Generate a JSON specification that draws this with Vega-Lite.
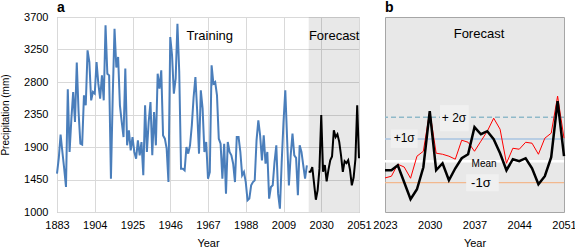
{
  "$schema": "https://vega.github.io/schema/vega-lite/v6.json",
  "padding": {"left": 0, "top": 0, "right": 0, "bottom": 0},
  "bounds": "flush",
  "spacing": 26,
  "config": {
    "font": "Liberation Sans",
    "view": {"stroke": "#a6a6a6"},
    "axis": {"labelFont": "Liberation Sans", "titleFont": "Liberation Sans", "labelFontSize": 11, "titleFontSize": 11, "labelColor": "#000", "titleColor": "#000", "titleFontWeight": "normal", "domain": false, "ticks": false, "gridColor": "#d9d9d9", "labelFlush": false, "labelOverlap": false}
  },
  "datasets": {
    "training": [
      {"year":1883,"p":1531},{"year":1884,"p":1750},{"year":1885,"p":2071},{"year":1886,"p":1831},{"year":1887,"p":1600},{"year":1888,"p":1346},{"year":1889,"p":2698},{"year":1890,"p":1831},{"year":1891,"p":2292},{"year":1892,"p":2661},
      {"year":1893,"p":2246},{"year":1894,"p":3068},{"year":1895,"p":2385},{"year":1896,"p":1946},{"year":1897,"p":1932},{"year":1898,"p":2615},{"year":1899,"p":2477},{"year":1900,"p":3238},{"year":1901,"p":3077},{"year":1902,"p":2546},
      {"year":1903,"p":2661},{"year":1904,"p":2638},{"year":1905,"p":3077},{"year":1906,"p":2777},{"year":1907,"p":2569},{"year":1908,"p":2892},{"year":1909,"p":2546},{"year":1910,"p":3584},{"year":1911,"p":2915},{"year":1912,"p":2892},
      {"year":1913,"p":1462},{"year":1914,"p":2600},{"year":1915,"p":3538},{"year":1916,"p":3000},{"year":1917,"p":3146},{"year":1918,"p":2477},{"year":1919,"p":2246},{"year":1920,"p":2038},{"year":1921,"p":2985},{"year":1922,"p":1923},
      {"year":1923,"p":2131},{"year":1924,"p":1854},{"year":1925,"p":2038},{"year":1926,"p":1831},{"year":1927,"p":1738},{"year":1928,"p":1992},{"year":1929,"p":1785},{"year":1930,"p":1969},{"year":1931,"p":1508},{"year":1932,"p":2477},
      {"year":1933,"p":1831},{"year":1934,"p":2246},{"year":1935,"p":2523},{"year":1936,"p":1785},{"year":1937,"p":2385},{"year":1938,"p":1923},{"year":1939,"p":2915},{"year":1940,"p":2708},{"year":1941,"p":2961},{"year":1942,"p":2061},
      {"year":1943,"p":2015},{"year":1944,"p":1877},{"year":1945,"p":1415},{"year":1946,"p":3423},{"year":1947,"p":3169},{"year":1948,"p":2638},{"year":1949,"p":2846},{"year":1950,"p":3607},{"year":1951,"p":2938},{"year":1952,"p":1600},
      {"year":1953,"p":1600},{"year":1954,"p":1577},{"year":1955,"p":1900},{"year":1956,"p":1808},{"year":1957,"p":1923},{"year":1958,"p":2200},{"year":1959,"p":2592},{"year":1960,"p":2869},{"year":1961,"p":2385},{"year":1962,"p":1808},
      {"year":1963,"p":2685},{"year":1964,"p":2431},{"year":1965,"p":1831},{"year":1966,"p":1969},{"year":1967,"p":1462},{"year":1968,"p":1554},{"year":1969,"p":3031},{"year":1970,"p":2777},{"year":1971,"p":2800},{"year":1972,"p":2615},
      {"year":1973,"p":2015},{"year":1974,"p":1946},{"year":1975,"p":1462},{"year":1976,"p":1946},{"year":1977,"p":1254},{"year":1978,"p":1969},{"year":1979,"p":1831},{"year":1980,"p":1785},{"year":1981,"p":1669},{"year":1982,"p":1415},
      {"year":1983,"p":2038},{"year":1984,"p":2038},{"year":1985,"p":1831},{"year":1986,"p":1508},{"year":1987,"p":1554},{"year":1988,"p":1415},{"year":1989,"p":1161},{"year":1990,"p":1185},{"year":1991,"p":1369},{"year":1992,"p":1415},
      {"year":1993,"p":1438},{"year":1994,"p":1992},{"year":1995,"p":2269},{"year":1996,"p":2061},{"year":1997,"p":1715},{"year":1998,"p":2061},{"year":1999,"p":1669},{"year":2000,"p":1831},{"year":2001,"p":1185},{"year":2002,"p":1346},
      {"year":2003,"p":1369},{"year":2004,"p":1692},{"year":2005,"p":1923},{"year":2006,"p":1254},{"year":2007,"p":1046},{"year":2008,"p":1692},{"year":2009,"p":2246},{"year":2010,"p":2685},{"year":2011,"p":2015},{"year":2012,"p":1369},
      {"year":2013,"p":1785},{"year":2014,"p":2085},{"year":2015,"p":1785},{"year":2016,"p":1750},{"year":2017,"p":1231},{"year":2018,"p":1923},{"year":2019,"p":1831},{"year":2020,"p":1646},{"year":2021,"p":1462},{"year":2022,"p":1646}
    ],
    "forecast": [
      {"year":2023,"p":1557},{"year":2024,"p":1557},{"year":2025,"p":1623},{"year":2026,"p":1396},{"year":2027,"p":1170},{"year":2028,"p":1303},{"year":2029,"p":1597},{"year":2030,"p":2344},{"year":2031,"p":1557},{"year":2032,"p":1650},
      {"year":2033,"p":1423},{"year":2034,"p":1583},{"year":2035,"p":1717},{"year":2036,"p":1770},{"year":2037,"p":2131},{"year":2038,"p":2037},{"year":2039,"p":2077},{"year":2040,"p":1971},{"year":2041,"p":1784},{"year":2042,"p":1557},
      {"year":2043,"p":1704},{"year":2044,"p":1677},{"year":2045,"p":1717},{"year":2046,"p":1583},{"year":2047,"p":1370},{"year":2048,"p":1477},{"year":2049,"p":1730},{"year":2050,"p":2478},{"year":2051,"p":1744}
    ],
    "model2": [
      {"year":2023,"p":1454},{"year":2024,"p":1477},{"year":2025,"p":1637},{"year":2026,"p":1600},{"year":2027,"p":1450},{"year":2028,"p":1744},{"year":2029,"p":1810},{"year":2030,"p":2344},{"year":2031,"p":1784},{"year":2032,"p":1770},
      {"year":2033,"p":1744},{"year":2034,"p":1704},{"year":2035,"p":1957},{"year":2036,"p":1930},{"year":2037,"p":1810},{"year":2038,"p":1944},{"year":2039,"p":2077},{"year":2040,"p":2251},{"year":2041,"p":2104},{"year":2042,"p":1650},
      {"year":2043,"p":1850},{"year":2044,"p":1837},{"year":2045,"p":1930},{"year":2046,"p":1917},{"year":2047,"p":1770},{"year":2048,"p":1984},{"year":2049,"p":2051},{"year":2050,"p":2545},{"year":2051,"p":1984}
    ]
  },
  "hconcat": [
    {
      "width": 302,
      "height": 195,
      "layer": [
        {
          "data": {"values": [{"start": 2023, "end": 2051}]},
          "mark": {"type": "rect", "fill": "#000", "opacity": 0.09},
          "encoding": {
            "x": {"field": "start", "type": "quantitative", "scale": {"domain": [1883, 2051], "nice": false, "zero": false},
              "axis": {"values": [1883,1904,1925,1946,1967,1988,2009,2030,2051], "tickCount": 30, "format": "d", "title": "Year", "labelPadding": 7, "titlePadding": 7, "labelOverlap": false}},
            "x2": {"field": "end"}
          }
        },
        {
          "data": {"name": "training"},
          "mark": {"type": "line", "color": "#4a7ebb", "strokeWidth": 2},
          "encoding": {
            "x": {"field": "year", "type": "quantitative"},
            "y": {"field": "p", "type": "quantitative", "scale": {"domain": [1000, 3700], "nice": false, "zero": false},
              "axis": {"values": [1000,1450,1900,2350,2800,3250,3700], "tickCount": 30, "format": "d", "title": "Precipitation (mm)", "titleFontSize": 10, "labelPadding": 9, "titlePadding": 13, "labelOverlap": false}}
          }
        },
        {
          "data": {"name": "forecast"},
          "mark": {"type": "line", "color": "#000", "strokeWidth": 2},
          "encoding": {
            "x": {"field": "year", "type": "quantitative"},
            "y": {"field": "p", "type": "quantitative"}
          }
        },
        {
          "data": {"values": [{}]},
          "mark": {"type": "text", "text": "Training", "fontSize": 13, "font": "Liberation Sans"},
          "encoding": {"x": {"datum": 1968}, "y": {"datum": 3440}}
        },
        {
          "data": {"values": [{}]},
          "mark": {"type": "text", "text": "Forecast", "fontSize": 13, "font": "Liberation Sans"},
          "encoding": {"x": {"datum": 2037.2}, "y": {"datum": 3440}}
        },
        {
          "data": {"values": [{}]},
          "mark": {"type": "text", "text": "a", "fontSize": 14, "fontWeight": "bold", "align": "left", "baseline": "alphabetic", "font": "Liberation Sans"},
          "encoding": {"x": {"datum": 1883}, "y": {"datum": 3769}}
        }
      ]
    },
    {
      "width": 179,
      "height": 195,
      "view": {"fill": "#e8e8e8", "stroke": "#a6a6a6"},
      "layer": [
        {
          "data": {"values": [{}]},
          "mark": {"type": "rule", "color": "#8fb9c9", "strokeWidth": 1.5, "strokeDash": [5, 3]},
          "encoding": {
            "y": {"datum": 2264, "type": "quantitative", "scale": {"domain": [1000, 3600], "nice": false, "zero": false}, "axis": null}
          }
        },
        {
          "data": {"values": [{}]},
          "mark": {"type": "rule", "color": "#a9c4e2", "strokeWidth": 1.5},
          "encoding": {"y": {"datum": 1975}}
        },
        {
          "data": {"values": [{}]},
          "mark": {"type": "rule", "color": "#ffffff", "strokeWidth": 2.5},
          "encoding": {"y": {"datum": 1677}}
        },
        {
          "data": {"values": [{}]},
          "mark": {"type": "rule", "color": "#f2b88e", "strokeWidth": 1.2},
          "encoding": {"y": {"datum": 1392}}
        },
        {
          "data": {"values": [{}]},
          "mark": {"type": "rect", "fill": "#f0f0f0"},
          "encoding": {
            "x": {"datum": 2031.6, "type": "quantitative", "scale": {"domain": [2023, 2051], "nice": false, "zero": false},
              "axis": {"values": [2023,2030,2037,2044,2051], "tickCount": 30, "format": "d", "title": "Year", "labelPadding": 7, "titlePadding": 7, "gridColor": "#d2d2d2", "labelOverlap": false}},
            "x2": {"datum": 2036.1}, "y": {"datum": 2424}, "y2": {"datum": 2077}}
        },
        {
          "data": {"values": [{}]},
          "mark": {"type": "rect", "fill": "#f0f0f0"},
          "encoding": {"x": {"datum": 2023.9}, "x2": {"datum": 2028.1}, "y": {"datum": 2100}, "y2": {"datum": 1854}}
        },
        {
          "data": {"values": [{}]},
          "mark": {"type": "rect", "fill": "#f0f0f0"},
          "encoding": {"x": {"datum": 2035.7}, "x2": {"datum": 2040.8}, "y": {"datum": 1503}, "y2": {"datum": 1276}}
        },
        {
          "data": {"name": "model2"},
          "mark": {"type": "line", "color": "#ff0000", "strokeWidth": 1},
          "encoding": {"x": {"field": "year", "type": "quantitative"}, "y": {"field": "p", "type": "quantitative"}}
        },
        {
          "data": {"name": "forecast"},
          "mark": {"type": "line", "color": "#000", "strokeWidth": 2.5},
          "encoding": {"x": {"field": "year", "type": "quantitative"}, "y": {"field": "p", "type": "quantitative"}}
        },
        {
          "data": {"values": [{}]},
          "mark": {"type": "text", "text": "Forecast", "fontSize": 13, "font": "Liberation Sans"},
          "encoding": {"x": {"datum": 2037.7}, "y": {"datum": 3368}}
        },
        {
          "data": {"values": [{}]},
          "mark": {"type": "text", "text": "+ 2σ", "fontSize": 12, "font": "Liberation Sans"},
          "encoding": {"x": {"datum": 2033.8}, "y": {"datum": 2255}}
        },
        {
          "data": {"values": [{}]},
          "mark": {"type": "text", "text": "+1σ", "fontSize": 12, "font": "Liberation Sans"},
          "encoding": {"x": {"datum": 2026.0}, "y": {"datum": 1984}}
        },
        {
          "data": {"values": [{}]},
          "mark": {"type": "text", "text": "Mean", "fontSize": 10, "font": "Liberation Sans"},
          "encoding": {"x": {"datum": 2038.5}, "y": {"datum": 1640}}
        },
        {
          "data": {"values": [{}]},
          "mark": {"type": "text", "text": "-1σ", "fontSize": 13, "font": "Liberation Sans"},
          "encoding": {"x": {"datum": 2038}, "y": {"datum": 1390}}
        },
        {
          "data": {"values": [{}]},
          "mark": {"type": "text", "text": "b", "fontSize": 14, "fontWeight": "bold", "align": "left", "baseline": "alphabetic", "font": "Liberation Sans"},
          "encoding": {"x": {"datum": 2023}, "y": {"datum": 3667}}
        }
      ]
    }
  ]
}
